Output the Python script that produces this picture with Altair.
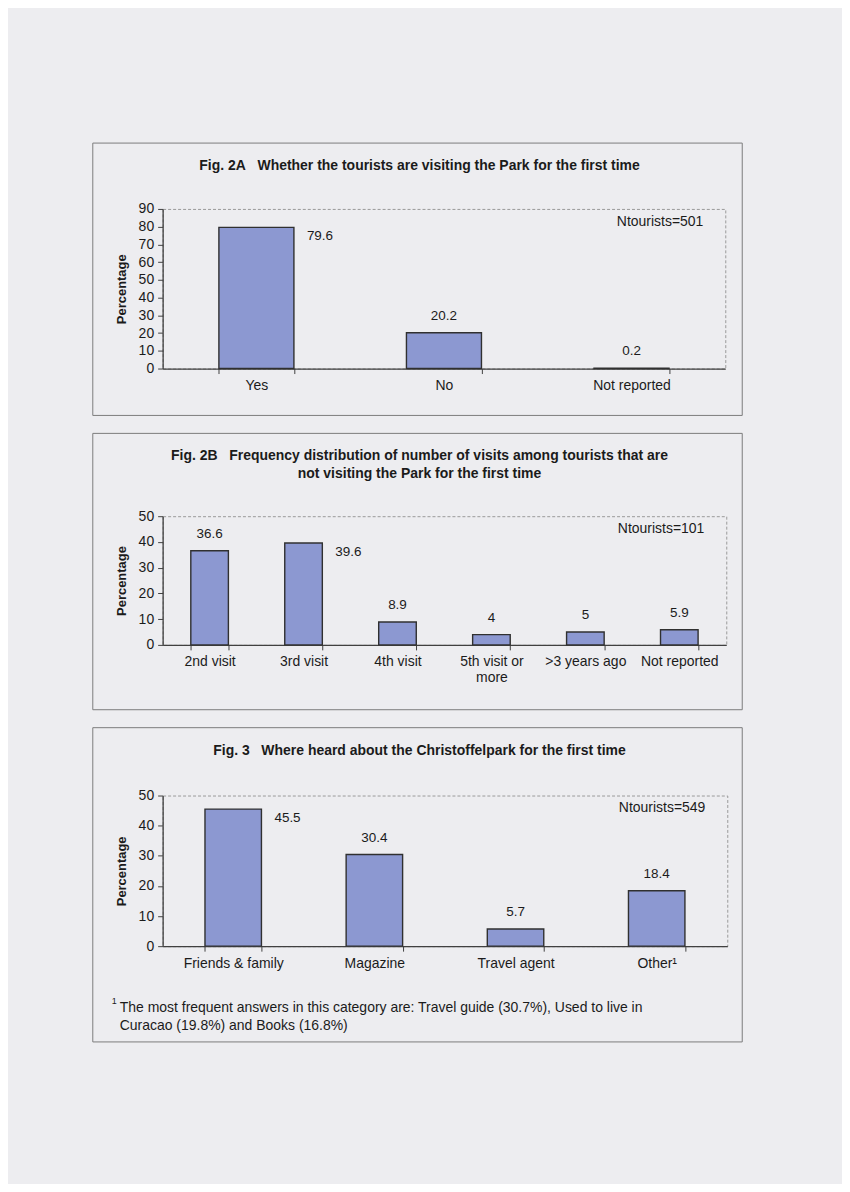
import altair as alt
import pandas as pd

NB = "\u00a0"

# Fig. 2A
cats_2a = ["Yes", "No", "Not reported"]
pct_2a = [79.6, 20.2, 0.2]
n_2a = 501
title_2a = f"Fig. 2A{NB}{NB}{NB}Whether the tourists are visiting the Park for the first time"

# Fig. 2B
cats_2b = ["2nd visit", "3rd visit", "4th visit", "5th visit or more", ">3 years ago", "Not reported"]
pct_2b = [36.6, 39.6, 8.9, 4, 5, 5.9]
n_2b = 101
title_2b = (f"Fig. 2B{NB}{NB}{NB}Frequency distribution of number of visits among tourists that are\n"
            "not visiting the Park for the first time")

# Fig. 3
cats_3 = ["Friends & family", "Magazine", "Travel agent", "Other\u00b9"]
pct_3 = [45.5, 30.4, 5.7, 18.4]
n_3 = 549
title_3 = f"Fig. 3{NB}{NB}{NB}Where heard about the Christoffelpark for the first time"
note_3 = ("The most frequent answers in this category are: Travel guide (30.7%), Used to live in\n"
          "Curacao (19.8%) and Books (16.8%)")

FONT = "Liberation Sans"
INK = "#1b1b1b"
BAR = "#8c98d1"
PAGE = "#ededf0"
LEFT = 70


def figure(cats, pct, n, title, ymax, w, h, top, bottom, note=None):
    right = 651 - LEFT - w
    df = pd.DataFrame({"cat": cats, "pct": pct})
    half_bar = w / len(cats) * 0.4 / 2
    x = alt.X(
        "cat:N", sort=cats, title=None,
        scale=alt.Scale(paddingInner=0.6, paddingOuter=0.3),
        axis=alt.Axis(
            labelAngle=0, tickBand="extent", labelPadding=5,
            labelExpr="datum.label == '5th visit or more' ? ['5th visit or', 'more'] : datum.label",
        ),
    )
    y = alt.Y(
        "pct:Q", title="Percentage",
        scale=alt.Scale(domain=[0, ymax], nice=False),
        axis=alt.Axis(values=list(range(0, ymax + 1, 10)), labelPadding=4, titlePadding=10),
    )
    base = alt.Chart(df).encode(x=x, y=y)
    bars = base.mark_bar(color=BAR, stroke="#303030", strokeWidth=1.4)
    cut = 0.75 * ymax
    above = (
        base.mark_text(baseline="middle", dy=-17, fontSize=13.5, font=FONT, color=INK)
        .encode(text="pct:Q")
        .transform_filter(f"datum.pct <= {cut}")
    )
    beside = (
        base.mark_text(align="left", baseline="middle", dx=half_bar + 13, dy=9,
                       fontSize=13.5, font=FONT, color=INK)
        .encode(text="pct:Q")
        .transform_filter(f"datum.pct > {cut}")
    )

    one = pd.DataFrame({"k": [0]})
    frame = alt.Chart(one).mark_rect(fillOpacity=0, stroke="#7c7c7c", strokeWidth=1).encode(
        x=alt.value(-LEFT), x2=alt.value(w + right),
        y=alt.value(-top), y2=alt.value(h + bottom),
    )
    head = alt.Chart(one).mark_text(
        fontWeight="bold", fontSize=14, font=FONT, color=INK,
        align="center", baseline="top", lineBreak="\n", lineHeight=18,
    ).encode(
        x=alt.value((w + right - LEFT) / 2 + 2), y=alt.value(-top + 16),
        text=alt.value(title),
    )
    ntext = alt.Chart(one).mark_text(
        align="right", baseline="middle", fontSize=14, font=FONT, color=INK,
    ).encode(x=alt.value(w - 22), y=alt.value(13), text=alt.value(f"Ntourists={n}"))

    layers = [frame, head, bars, above, beside, ntext]
    if note:
        sup = alt.Chart(one).mark_text(
            align="left", baseline="top", fontSize=9, font=FONT, color=INK,
        ).encode(x=alt.value(-51), y=alt.value(h + 51), text=alt.value("1"))
        body = alt.Chart(one).mark_text(
            align="left", baseline="top", fontSize=14, font=FONT, color=INK,
            lineBreak="\n", lineHeight=18,
        ).encode(x=alt.value(-43), y=alt.value(h + 55), text=alt.value(note))
        layers += [sup, body]
    return alt.layer(*layers).properties(width=w, height=h)


fig_2a = figure(cats_2a, pct_2a, n_2a, title_2a, 90, 564, 160, 66, 47)
fig_2b = figure(cats_2b, pct_2b, n_2b, title_2b, 50, 565, 129, 83, 65)
fig_3 = figure(cats_3, pct_3, n_3, title_3, 50, 566, 151, 68, 96, note=note_3)

chart = (
    alt.vconcat(fig_2a, fig_2b, fig_3, spacing=16)
    .properties(
        background=PAGE,
        padding={"left": 84, "top": 133, "right": 99, "bottom": 140},
    )
    .configure_view(stroke="#9a9a9a", strokeDash=[3, 2], strokeWidth=1)
    .configure_axis(
        grid=False, domainColor="#404040", domainWidth=1.3,
        tickColor="#404040", tickSize=5, tickWidth=1,
        labelFont=FONT, labelFontSize=14, labelColor=INK,
        titleFont=FONT, titleFontSize=13, titleFontWeight="bold", titleColor=INK,
    )
)

chart.save("out.html", embed_options={"renderer": "svg", "actions": False})
